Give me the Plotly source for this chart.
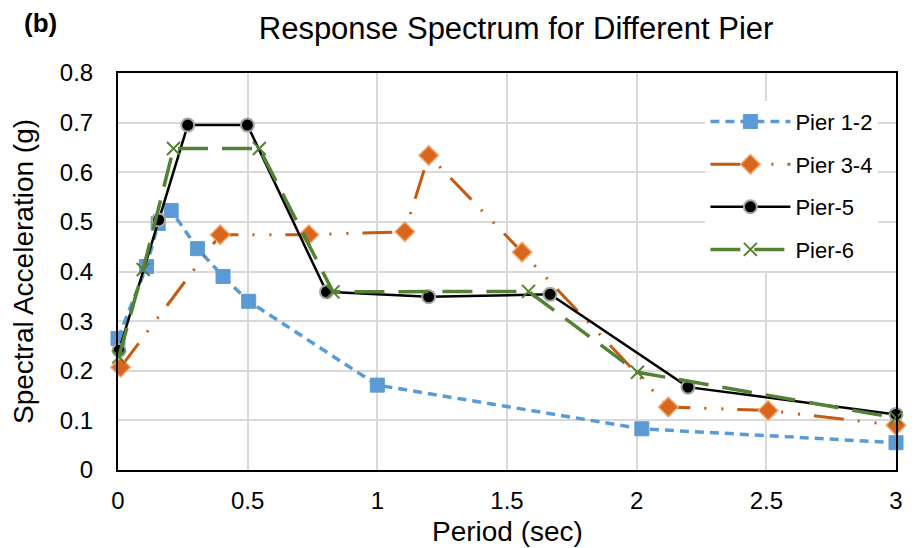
import plotly.graph_objects as go

# Data
p12_x = [0.0, 0.11, 0.155, 0.205, 0.307, 0.405, 0.504, 1.0, 2.02, 3.0]
p12_y = [0.265, 0.41, 0.497, 0.523, 0.446, 0.39, 0.34, 0.171, 0.083, 0.055]

p34_x = [0.01, 0.394, 0.736, 1.106, 1.198, 1.558, 2.122, 2.507, 3.0]
p34_y = [0.207, 0.474, 0.474, 0.48, 0.634, 0.439, 0.127, 0.12, 0.09]

p5_x = [0.004, 0.157, 0.269, 0.499, 0.804, 1.198, 1.666, 2.198, 3.0]
p5_y = [0.241, 0.504, 0.695, 0.695, 0.359, 0.349, 0.354, 0.167, 0.112]

p6_x = [0.003, 0.097, 0.214, 0.545, 0.829, 1.583, 2.003, 3.0]
p6_y = [0.228, 0.404, 0.648, 0.648, 0.359, 0.36, 0.197, 0.105]

x_ticks = [0, 0.5, 1, 1.5, 2, 2.5, 3]
x_tick_labels = ["0", "0.5", "1", "1.5", "2", "2.5", "3"]
y_ticks = [0, 0.1, 0.2, 0.3, 0.4, 0.5, 0.6, 0.7, 0.8]
y_tick_labels = ["0", "0.1", "0.2", "0.3", "0.4", "0.5", "0.6", "0.7", "0.8"]

FONT = "Liberation Sans, Arial, sans-serif"

fig = go.Figure()
fig.add_trace(go.Scatter(
    x=p12_x, y=p12_y, name="Pier 1-2", mode="lines+markers", legendgroup="a", cliponaxis=False,
    line=dict(color="#5B9BD5", width=3.5, dash="9px,6px"),
    marker=dict(symbol="square", size=14, color="#5B9BD5", line=dict(color="#5B9BD5", width=1)),
))
fig.add_trace(go.Scatter(
    x=p34_x, y=p34_y, name="Pier 3-4", mode="lines+markers", legendgroup="b", cliponaxis=False,
    line=dict(color="#C55A11", width=3, dash="30px,14px,2px,15px,2px,14px"),
    marker=dict(symbol="diamond", size=15, color="#D9661F", line=dict(color="#F4A46A", width=1.5)),
))
fig.add_trace(go.Scatter(
    x=p5_x, y=p5_y, name="Pier-5", mode="lines+markers", legendgroup="c", cliponaxis=False,
    line=dict(color="#000000", width=2.5),
    marker=dict(symbol="circle", size=13, color="#000000", line=dict(color="#A6A6A6", width=2)),
))
fig.add_trace(go.Scatter(
    x=p6_x, y=p6_y, name="Pier-6", mode="lines+markers", legendgroup="d", cliponaxis=False,
    line=dict(color="#548235", width=3.5, dash="30px,14px"),
    marker=dict(symbol="x-thin", size=13, color="#548235", line=dict(color="#548235", width=2)),
))

fig.update_layout(
    width=915, height=548,
    margin=dict(l=118, r=12, t=73, b=78),
    paper_bgcolor="white", plot_bgcolor="white",
    font=dict(family=FONT, size=20, color="black"),
    title=dict(text="Response Spectrum for Different Pier", x=0.564, xanchor="center",
               y=0.948, yanchor="middle", font=dict(size=31, family=FONT, color="black")),
    legend=dict(x=0.755, y=0.93, xanchor="left", yanchor="top", bgcolor="white",
                font=dict(size=22, family=FONT), traceorder="grouped", tracegroupgap=11,
                itemwidth=80),
    showlegend=True,
    annotations=[
        dict(text="<b>(b)</b>", xref="paper", yref="paper", x=-0.124, y=1.127,
             xanchor="left", yanchor="middle", showarrow=False,
             font=dict(size=26, family=FONT, color="black")),
        dict(text="Period (sec)", xref="paper", yref="paper", x=0.5, y=-0.155,
             xanchor="center", yanchor="middle", showarrow=False,
             font=dict(size=28, family=FONT, color="black")),
    ],
)
fig.update_xaxes(
    range=[0, 3], tickvals=x_ticks, ticktext=x_tick_labels,
    showgrid=True, gridcolor="#D9D9D9", gridwidth=1.5,
    showline=True, linecolor="black", linewidth=2, mirror=True,
    zeroline=False, ticks="", tickfont=dict(size=24), ticklabelstandoff=8,
)
fig.update_yaxes(
    range=[0, 0.8], tickvals=y_ticks, ticktext=y_tick_labels,
    showgrid=True, gridcolor="#D9D9D9", gridwidth=1.5,
    showline=True, linecolor="black", linewidth=2, mirror=True,
    zeroline=False, ticks="", tickfont=dict(size=24), ticklabelstandoff=18,
    title=dict(text="Spectral Acceleration (g)", font=dict(size=28), standoff=18),
)

fig.write_html("out.html")
